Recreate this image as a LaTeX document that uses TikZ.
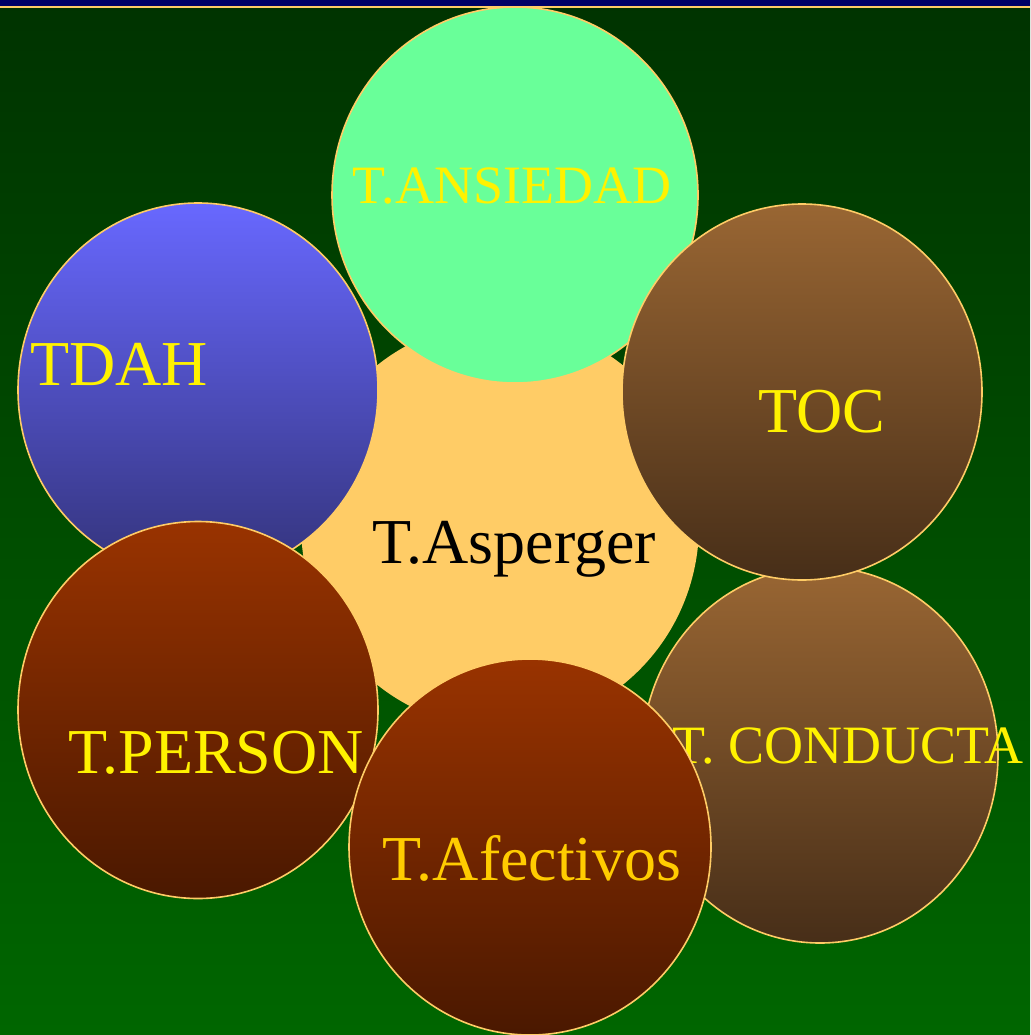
\documentclass[tikz,border=0pt]{standalone}
\usepackage{fontspec}
\setmainfont{Liberation Serif}
\usetikzlibrary{shapes.geometric}

\definecolor{navybar}{HTML}{000066}
\definecolor{rimline}{HTML}{FFCC66}
\definecolor{bgtop}{HTML}{003300}
\definecolor{bgbottom}{HTML}{006600}
\definecolor{sand}{HTML}{FFCC66}
\definecolor{mint}{HTML}{69FF99}
\definecolor{blueTop}{HTML}{6868FF}
\definecolor{blueBot}{HTML}{33337A}
\definecolor{brownTop}{HTML}{996633}
\definecolor{brownBot}{HTML}{472E18}
\definecolor{rustTop}{HTML}{993300}
\definecolor{rustBot}{HTML}{4A1800}
\definecolor{gold}{HTML}{FFCC00}

\begin{document}
\begin{tikzpicture}[
    x=1pt, y=-1pt,
    disc/.style={ellipse, draw=rimline, line width=1.6pt, inner sep=0pt,
        minimum width=360pt, minimum height=376pt},
    bigtext/.style={font=\fontsize{64}{70}\selectfont, text=yellow, anchor=base, inner sep=0pt},
    smalltext/.style={font=\fontsize{54}{60}\selectfont, text=yellow, anchor=base, inner sep=0pt}
]

    % Slide background: green gradient with the navy title strip
    \shade[top color=bgtop, bottom color=bgbottom] (0,0) rectangle (1030,1035);
    \fill[navybar] (0,0) rectangle (1030,6);
    \fill[rimline] (0,6) rectangle (1030,8);
    \useasboundingbox (0,0) rectangle (1030,1035);

    % Centre disc
    \node[disc, draw=none, fill=sand, minimum width=398pt, minimum height=406pt] (asperger) at (500,525) {};
    \node[bigtext, text=black] (asperger-text) at (514,563) {T.Asperger};

    % Surrounding discs (drawing order gives the overlaps)
    \node[disc, fill=mint, minimum width=366pt] (ansiedad) at (515,195) {};
    \node[smalltext] (ansiedad-text) at (512,203) {T.ANSIEDAD};

    \node[disc, top color=blueTop, bottom color=blueBot, minimum height=374pt] (tdah) at (198,390) {};
    \node[bigtext] (tdah-text) at (119,385) {TDAH};

    \node[disc, top color=brownTop, bottom color=brownBot, minimum width=356pt] (conducta) at (820,755) {};
    \node[smalltext] (conducta-text) at (848,763) {T. CONDUCTA};

    \node[disc, top color=brownTop, bottom color=brownBot] (toc) at (802,392) {};
    \node[bigtext] (toc-text) at (822,432) {TOC};

    \node[disc, top color=rustTop, bottom color=rustBot, minimum height=377pt] (person) at (198,710) {};
    \node[bigtext] (person-text) at (216,773) {T.PERSON};

    \node[disc, top color=rustTop, bottom color=rustBot, minimum width=362pt] (afectivos) at (530,847) {};
    \node[bigtext, text=gold] (afectivos-text) at (532,880) {T.Afectivos};

\end{tikzpicture}
\end{document}
